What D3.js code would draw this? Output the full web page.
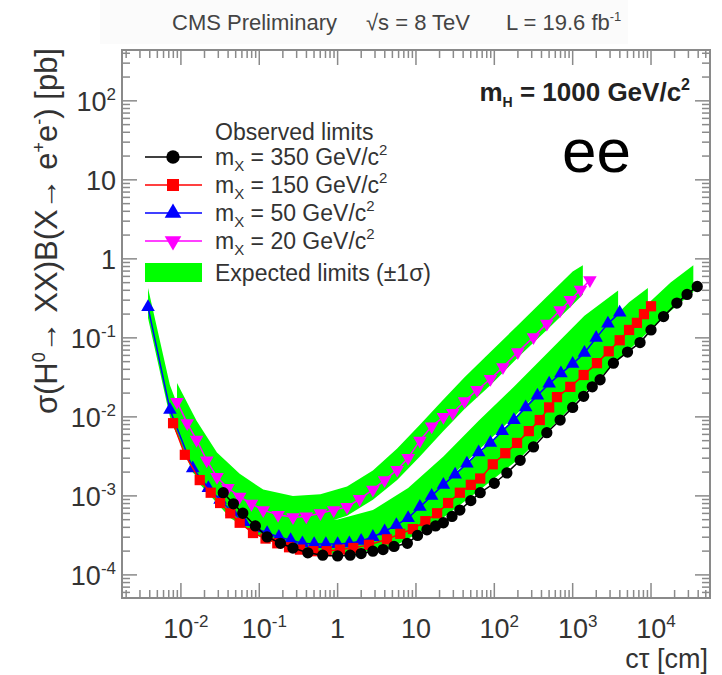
<!DOCTYPE html>
<html lang="en">
    <head>
        <meta charset="utf-8">
        <title>Displaced lepton limits</title>
        <script type="text/javascript" src="https://cdn.jsdelivr.net/npm/d3@7"></script>
        <style>
            body { margin: 0; background: #fff; }
            text { font-family: "Liberation Sans", Arial, sans-serif; }
        </style>
    </head>
    <body>
        <script type="text/javascript">
            // all values are log10(ctau [cm]) and log10(sigma*B [pb])

            // observed, mX = 350 GeV
            var lx350 = [-1.46,-1.33,-1.21,-1.05,-0.90,-0.73,-0.57,-0.38,-0.19,0.00,0.16,0.30,0.45,0.58,0.72,0.89,1.02,1.14,1.25,1.35,1.46,1.56,1.70,1.82,2.00,2.16,2.33,2.50,2.67,2.84,3.00,3.14,3.25,3.35,3.52,3.70,3.86,4.00,4.16,4.33,4.46,4.59];
            var ly350 = [-2.96,-3.10,-3.22,-3.38,-3.52,-3.60,-3.66,-3.72,-3.75,-3.76,-3.75,-3.73,-3.70,-3.68,-3.64,-3.60,-3.50,-3.43,-3.38,-3.34,-3.26,-3.18,-3.06,-2.96,-2.84,-2.71,-2.55,-2.38,-2.20,-2.04,-1.88,-1.74,-1.62,-1.53,-1.32,-1.18,-1.06,-0.90,-0.73,-0.56,-0.45,-0.35];

            // observed, mX = 150 GeV
            var lx150 = [-2.10,-1.95,-1.76,-1.62,-1.50,-1.37,-1.25,-1.08,-0.92,-0.77,-0.62,-0.48,-0.31,-0.14,0.03,0.20,0.40,0.63,0.80,0.96,1.12,1.27,1.41,1.56,1.70,1.82,1.98,2.14,2.29,2.44,2.58,2.70,2.80,2.97,3.14,3.31,3.46,3.60,3.72,3.82,3.91,4.00];
            var ly150 = [-2.08,-2.48,-2.80,-2.96,-3.09,-3.22,-3.34,-3.47,-3.54,-3.60,-3.65,-3.68,-3.70,-3.70,-3.68,-3.66,-3.62,-3.55,-3.48,-3.42,-3.32,-3.22,-3.09,-2.96,-2.86,-2.78,-2.60,-2.46,-2.33,-2.18,-2.04,-1.88,-1.75,-1.62,-1.47,-1.32,-1.17,-1.03,-0.90,-0.81,-0.70,-0.60];

            // observed, mX = 50 GeV
            var lx50 = [-2.42,-2.14,-1.85,-1.65,-1.50,-1.35,-1.20,-1.05,-0.90,-0.75,-0.60,-0.45,-0.30,-0.15,0.00,0.15,0.30,0.45,0.60,0.75,0.90,1.05,1.20,1.35,1.50,1.65,1.80,1.95,2.10,2.25,2.40,2.55,2.70,2.85,3.00,3.15,3.30,3.45,3.60];
            var ly50 = [-0.61,-1.91,-2.65,-2.90,-3.05,-3.20,-3.33,-3.41,-3.47,-3.52,-3.56,-3.60,-3.61,-3.61,-3.61,-3.60,-3.57,-3.52,-3.45,-3.37,-3.28,-3.14,-3.00,-2.86,-2.73,-2.59,-2.45,-2.33,-2.18,-2.04,-1.88,-1.73,-1.58,-1.45,-1.33,-1.19,-1.00,-0.82,-0.68];

            // observed, mX = 20 GeV
            var lx20 = [-2.05,-1.92,-1.80,-1.67,-1.54,-1.40,-1.25,-1.10,-0.95,-0.76,-0.57,-0.40,-0.22,-0.05,0.12,0.28,0.45,0.60,0.76,0.90,1.05,1.20,1.35,1.47,1.62,1.78,1.95,2.11,2.30,2.50,2.67,2.84,2.97,3.10,3.22];
            var ly20 = [-1.81,-2.08,-2.29,-2.55,-2.76,-2.90,-3.01,-3.10,-3.18,-3.24,-3.27,-3.26,-3.22,-3.18,-3.14,-3.04,-2.92,-2.80,-2.67,-2.52,-2.30,-2.12,-2.00,-1.95,-1.80,-1.66,-1.52,-1.37,-1.18,-0.99,-0.82,-0.65,-0.52,-0.39,-0.27];

            // expected +-1 sigma bands
            var bx20 = [-2.05,-1.80,-1.54,-1.25,-0.95,-0.57,-0.22,0.12,0.45,0.76,1.05,1.35,1.62,1.95,2.30,2.67,3.00,3.13];
            var blo20 = [-2.00,-2.45,-2.85,-3.10,-3.27,-3.38,-3.36,-3.25,-3.05,-2.80,-2.50,-2.18,-1.90,-1.60,-1.25,-0.90,-0.58,-0.45];
            var bhi20 = [-1.57,-2.05,-2.45,-2.72,-2.92,-3.00,-2.98,-2.88,-2.68,-2.40,-2.10,-1.78,-1.50,-1.18,-0.84,-0.48,-0.16,-0.08];

            var bx50 = [-2.42,-2.14,-1.85,-1.50,-1.20,-0.90,-0.45,0.00,0.45,0.90,1.35,1.80,2.25,2.70,3.15,3.58];
            var blo50 = [-0.75,-2.00,-2.70,-3.10,-3.38,-3.52,-3.62,-3.62,-3.50,-3.25,-2.85,-2.42,-2.00,-1.55,-1.12,-0.72];
            var bhi50 = [-0.37,-1.60,-2.35,-2.80,-3.05,-3.20,-3.30,-3.30,-3.18,-2.90,-2.50,-2.05,-1.62,-1.17,-0.72,-0.40];

            var bx150 = [-2.10,-1.76,-1.37,-0.92,-0.48,-0.14,0.40,0.96,1.41,1.82,2.29,2.80,3.31,3.72,3.96];
            var blo150 = [-2.12,-2.85,-3.28,-3.56,-3.68,-3.70,-3.62,-3.40,-3.08,-2.75,-2.30,-1.76,-1.30,-0.90,-0.65];
            var bhi150 = [-1.85,-2.55,-3.00,-3.30,-3.42,-3.45,-3.38,-3.12,-2.78,-2.45,-1.98,-1.42,-0.95,-0.55,-0.37];

            var bx350 = [-1.46,-0.90,-0.38,0.16,0.72,1.25,1.82,2.33,2.84,3.35,3.86,4.25,4.54];
            var blo350 = [-3.00,-3.55,-3.72,-3.74,-3.64,-3.35,-2.92,-2.52,-2.02,-1.50,-1.02,-0.66,-0.42];
            var bhi350 = [-2.75,-3.30,-3.48,-3.50,-3.38,-3.08,-2.62,-2.20,-1.68,-1.15,-0.66,-0.30,-0.08];

            var legendLabels = ["350", "150", "50", "20"];
            var seriesColors = ["#000000", "#ff0000", "#0000ff", "#ff00ff"];

            var xMajor = [1e-2, 1e-1, 1, 10, 1e2, 1e3, 1e4];
            var xTickText = [["10","-2"],["10","-1"],["1",""],["10",""],["10","2"],["10","3"],["10","4"]];
            var yMajor = [1e-4, 1e-3, 1e-2, 1e-1, 1, 10, 1e2];
            var yTickText = [["10","-4"],["10","-3"],["10","-2"],["10","-1"],["1",""],["10",""],["10","2"]];

            var w = 722, h = 675;
            var fx0 = 122, fx1 = 710, fy0 = 50, fy1 = 598;

            var svg = d3.select("body").append("svg")
                        .attr("width", w)
                        .attr("height", h);

            var xScale = d3.scaleLog().domain([0.00177, 56600]).range([fx0, fx1]);
            var yScale = d3.scaleLog().domain([5.1e-5, 440]).range([fy1, fy0]);

            function toPts(lx, ly) {
                return lx.map(function(v, i){ return [Math.pow(10, v), Math.pow(10, ly[i])]; });
            }
            function toBand(bx, lo, hi) {
                return bx.map(function(v, i){ return [Math.pow(10, v), Math.pow(10, lo[i]), Math.pow(10, hi[i])]; });
            }

            var series = [
                { pts: toPts(lx350, ly350), band: toBand(bx350, blo350, bhi350), sym: d3.symbolCircle, size: 100, rot: 0 },
                { pts: toPts(lx150, ly150), band: toBand(bx150, blo150, bhi150), sym: d3.symbolSquare, size: 105, rot: 0 },
                { pts: toPts(lx50, ly50), band: toBand(bx50, blo50, bhi50), sym: d3.symbolTriangle, size: 80, rot: 0 },
                { pts: toPts(lx20, ly20), band: toBand(bx20, blo20, bhi20), sym: d3.symbolTriangle, size: 80, rot: 180 }
            ];

            // very faint header strip behind the title
            svg.append("rect").attr("x", 100).attr("y", 0).attr("width", 528).attr("height", 44).attr("fill", "#fbfbfb");

            // title, three pieces
            var tcol = "#444";
            svg.append("text").attr("x", 172).attr("y", 30).attr("font-size", "22px").attr("fill", tcol)
                .text("CMS Preliminary");
            svg.append("text").attr("x", 366).attr("y", 30).attr("font-size", "22px").attr("fill", tcol)
                .text("\u221As = 8 TeV");
            var lumi = svg.append("text").attr("x", 506).attr("y", 30).attr("font-size", "22px").attr("fill", tcol);
            lumi.append("tspan").text("L = 19.6 fb");
            lumi.append("tspan").attr("dy", -9).attr("font-size", "13px").text("-1");

            // clip for plot contents
            svg.append("clipPath").attr("id", "frame")
                .append("rect")
                .attr("x", fx0).attr("y", fy0)
                .attr("width", fx1 - fx0).attr("height", fy1 - fy0);

            var plot = svg.append("g").attr("clip-path", "url(#frame)");

            // expected bands
            var area = d3.area()
                .x(function(d){ return xScale(d[0]); })
                .y0(function(d){ return yScale(d[1]); })
                .y1(function(d){ return yScale(d[2]); });

            series.forEach(function(s){
                plot.append("path")
                    .attr("d", area(s.band))
                    .attr("fill", "#00ff00");
            });

            // observed lines + markers, smallest mass on top
            var line = d3.line()
                .x(function(d){ return xScale(d[0]); })
                .y(function(d){ return yScale(d[1]); });

            series.slice().reverse().forEach(function(s, k){
                var c = seriesColors[series.length - 1 - k];
                plot.append("path")
                    .attr("d", line(s.pts))
                    .attr("fill", "none")
                    .attr("stroke", c)
                    .attr("stroke-width", 1.5);
                plot.selectAll(null)
                    .data(s.pts)
                    .enter()
                    .append("path")
                    .attr("d", d3.symbol().type(s.sym).size(s.size))
                    .attr("transform", function(d){
                        return "translate(" + xScale(d[0]) + "," + yScale(d[1]) + ") rotate(" + s.rot + ")";
                    })
                    .attr("fill", c);
            });

            // frame and ticks
            var axisCol = "#8a8a8a";
            var xAll = xScale.ticks().filter(function(v){ return v >= xScale.domain()[0] && v <= xScale.domain()[1]; });
            var yAll = yScale.ticks().filter(function(v){ return v >= yScale.domain()[0] && v <= yScale.domain()[1]; });
            function isMajor(v){ return Math.abs(Math.log10(v) - Math.round(Math.log10(v))) < 1e-6; }

            var ticks = svg.append("g").attr("stroke", axisCol).attr("stroke-width", 1.5);
            xAll.forEach(function(v){
                var len = isMajor(v) ? 15 : 8;
                var px = xScale(v);
                ticks.append("line").attr("x1", px).attr("x2", px).attr("y1", fy1).attr("y2", fy1 - len);
                ticks.append("line").attr("x1", px).attr("x2", px).attr("y1", fy0).attr("y2", fy0 + len);
            });
            yAll.forEach(function(v){
                var len = isMajor(v) ? 15 : 8;
                var py = yScale(v);
                ticks.append("line").attr("y1", py).attr("y2", py).attr("x1", fx0).attr("x2", fx0 + len);
                ticks.append("line").attr("y1", py).attr("y2", py).attr("x1", fx1).attr("x2", fx1 - len);
            });

            svg.append("rect")
                .attr("x", fx0).attr("y", fy0)
                .attr("width", fx1 - fx0).attr("height", fy1 - fy0)
                .attr("fill", "none")
                .attr("stroke", axisCol)
                .attr("stroke-width", 2);

            // tick labels
            var labCol = "#333";
            xMajor.forEach(function(v, i){
                var t = svg.append("text")
                    .attr("x", xScale(v) + (xTickText[i][1] ? 5 : 0))
                    .attr("y", fy1 + 40)
                    .attr("text-anchor", "middle")
                    .attr("font-size", "27px")
                    .attr("fill", labCol);
                t.append("tspan").text(xTickText[i][0]);
                if (xTickText[i][1]) t.append("tspan").attr("dy", -11).attr("font-size", "17px").text(xTickText[i][1]);
            });
            yMajor.forEach(function(v, i){
                var t = svg.append("text")
                    .attr("x", fx0 - 6)
                    .attr("y", yScale(v) + 10)
                    .attr("text-anchor", "end")
                    .attr("font-size", "27px")
                    .attr("fill", labCol);
                t.append("tspan").text(yTickText[i][0]);
                if (yTickText[i][1]) t.append("tspan").attr("dy", -11).attr("font-size", "17px").text(yTickText[i][1]);
            });

            // axis titles
            svg.append("text")
                .attr("x", fx1 - 2).attr("y", fy1 + 70)
                .attr("text-anchor", "end")
                .attr("font-size", "27px")
                .attr("fill", labCol)
                .text("c\u03C4 [cm]");

            var yt = svg.append("text")
                .attr("transform", "translate(57," + (fy0 - 2) + ") rotate(-90)")
                .attr("text-anchor", "end")
                .attr("font-size", "31px")
                .attr("fill", labCol);
            yt.append("tspan").text("\u03C3(H");
            yt.append("tspan").attr("dy", -12).attr("font-size", "18px").text("0");
            yt.append("tspan").attr("dy", 12).text("\u2192 XX)B(X\u2192 e");
            yt.append("tspan").attr("dy", -12).attr("font-size", "18px").text("+");
            yt.append("tspan").attr("dy", 12).text("e");
            yt.append("tspan").attr("dy", -12).attr("font-size", "18px").text("-");
            yt.append("tspan").attr("dy", 12).text(") [pb]");

            // mH label
            var mh = svg.append("text")
                .attr("x", 690).attr("y", 101)
                .attr("text-anchor", "end")
                .attr("font-size", "26px")
                .attr("font-weight", "bold")
                .attr("fill", "#222");
            mh.append("tspan").text("m");
            mh.append("tspan").attr("dy", 6).attr("font-size", "14px").text("H");
            mh.append("tspan").attr("dy", -6).text(" = 1000 GeV/c");
            mh.append("tspan").attr("dy", -11).attr("font-size", "16px").text("2");

            // ee channel
            svg.append("text")
                .attr("x", 562).attr("y", 172)
                .attr("font-size", "62px")
                .attr("fill", "#000")
                .text("ee");

            // legend
            var lg = svg.append("g");
            lg.append("text").attr("x", 215).attr("y", 140)
                .attr("font-size", "23px").attr("fill", "#333").text("Observed limits");
            var legY = [157, 185, 213, 241];
            series.forEach(function(s, i){
                var y = legY[i];
                lg.append("line").attr("x1", 145).attr("x2", 202).attr("y1", y).attr("y2", y)
                    .attr("stroke", seriesColors[i]).attr("stroke-width", 1.5);
                lg.append("path")
                    .attr("d", d3.symbol().type(s.sym).size(s.size + 40))
                    .attr("transform", "translate(173," + y + ") rotate(" + s.rot + ")")
                    .attr("fill", seriesColors[i]);
                var t = lg.append("text").attr("x", 215).attr("y", y + 8)
                    .attr("font-size", "23px").attr("fill", "#333");
                t.append("tspan").text("m");
                t.append("tspan").attr("dy", 6).attr("font-size", "15px").text("X");
                t.append("tspan").attr("dy", -6).text(" = " + legendLabels[i] + " GeV/c");
                t.append("tspan").attr("dy", -10).attr("font-size", "15px").text("2");
            });
            lg.append("rect").attr("x", 145).attr("y", 263).attr("width", 57).attr("height", 19).attr("fill", "#00ff00");
            lg.append("text").attr("x", 215).attr("y", 281)
                .attr("font-size", "23px").attr("fill", "#333").text("Expected limits (\u00B11\u03C3)");
        </script>
    </body>
</html>
